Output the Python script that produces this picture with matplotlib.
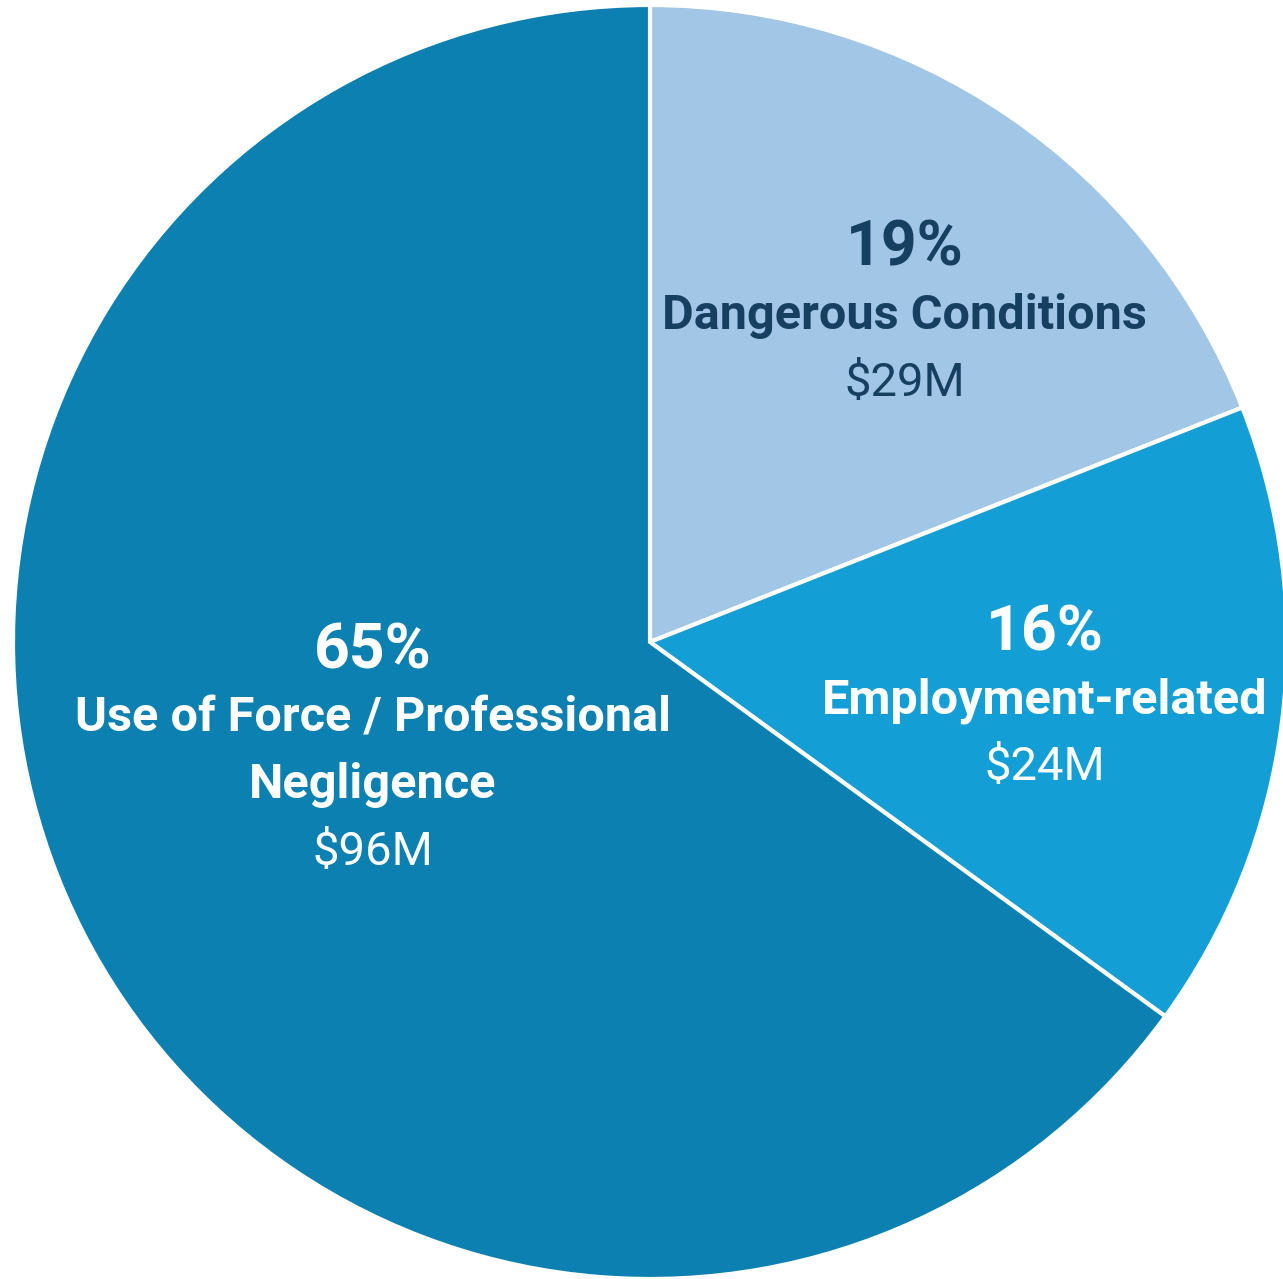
import matplotlib
matplotlib.use("Agg")
import matplotlib.pyplot as plt
from matplotlib import font_manager
import numpy as np

categories = ["Dangerous Conditions", "Employment-related", "Use of Force / Professional\nNegligence"]
percents = [19, 16, 65]
amounts = ["$29M", "$24M", "$96M"]
colors = ["#a2c6e5", "#139fd6", "#0b80b1"]
text_colors = ["#173f60", "#ffffff", "#ffffff"]

names = {f.name for f in font_manager.fontManager.ttflist}
fam = "Liberation Sans Narrow" if "Liberation Sans Narrow" in names else "Roboto"

W, H = 1283, 1279
fig = plt.figure(figsize=(W / 100, H / 100), dpi=100)
ax = fig.add_axes([0, 0, 1, 1])
R = 637.0
cx, cy = 650.0, H - 642.0

wedges, _ = ax.pie(percents, colors=colors, startangle=90, counterclock=False,
                   radius=1.0, center=(0, 0), frame=False,
                   wedgeprops=dict(edgecolor="white", linewidth=3))
ax.set_xlim(-cx / R, (W - cx) / R)
ax.set_ylim(-cy / R, (H - cy) / R)
ax.set_aspect("auto")
ax.axis("off")

# label anchor (radius fraction, angle offset in degrees) per slice
label_r = [0.65, 0.626, 0.468]
label_off = [-3.8, -1.2, -5.4]
line_gap = 67 / R
for w, p, cat, amt, tc, r, off in zip(wedges, percents, categories, amounts, text_colors, label_r, label_off):
    mid = np.deg2rad((w.theta1 + w.theta2) / 2 + off)
    x, y = r * np.cos(mid), r * np.sin(mid)
    lines = [(f"{p}%", "bold", 45)]
    for ln in cat.split("\n"):
        lines.append((ln, "bold", 35))
    lines.append((amt, "normal", 34))
    n = len(lines)
    for i, (txt, wt, sz) in enumerate(lines):
        yy = y + ((n - 1) / 2 - i) * line_gap
        ax.text(x, yy, txt, ha="center", va="center", color=tc,
                fontsize=sz, fontweight=wt, family=fam)

fig.savefig("out.png", dpi=100, facecolor="white")
